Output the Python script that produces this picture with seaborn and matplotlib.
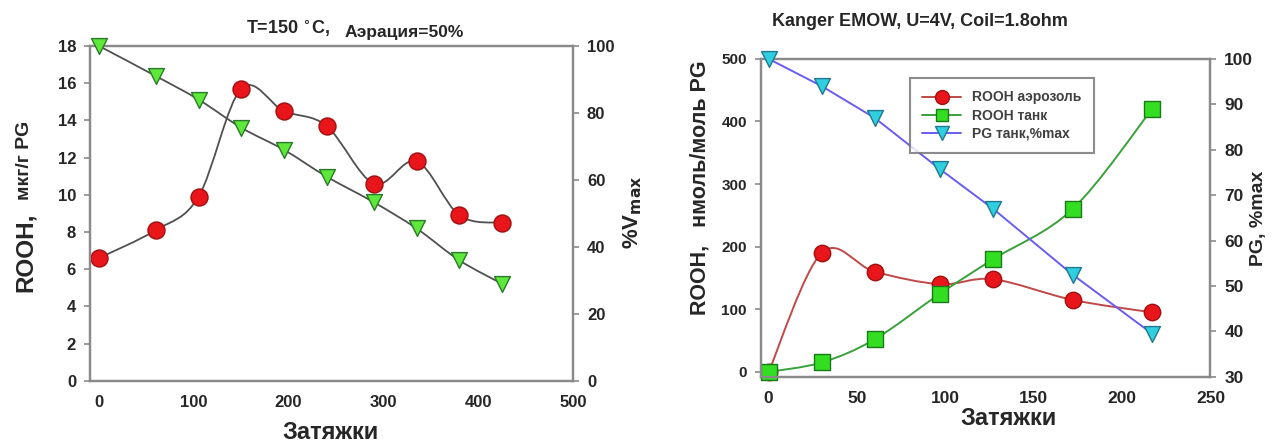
import numpy as np
import seaborn as sns
from matplotlib import pyplot as plt
from matplotlib.path import Path
from matplotlib.patches import PathPatch
from matplotlib.lines import Line2D

# left panel: T=150 C, aeration 50%
puffs_a = [0, 60, 105, 150, 195, 240, 290, 335, 380, 425]
rooh_a = [6.6, 8.1, 9.9, 15.7, 14.5, 13.7, 10.6, 11.8, 8.9, 8.5]
vmax_a = [100, 91, 84, 75.6, 69, 61, 53.3, 45.5, 36, 29]

# right panel: Kanger EMOW
puffs_b = [0, 30, 60, 97, 127, 172, 217]
rooh_aer = [0, 190, 160, 140, 148, 115, 95]
rooh_tank = [0, 15, 52, 125, 180, 260, 420]
pg_tank = [100, 94, 87, 75.7, 67, 52.5, 39.5]

legend_labels = ['ROOH аэрозоль', 'ROOH танк', 'PG танк,%max']

sns.set_style("white")
plt.rcParams['font.family'] = ['Liberation Sans', 'DejaVu Sans']
plt.rcParams['font.weight'] = 'bold'
plt.rcParams['axes.labelweight'] = 'bold'

GREY = '#8a8a8a'


# excel-like smoothed line: catmull-rom turned into bezier segments
def smooth_line(ax, x, y, color, lw=1.3):
    pts = np.column_stack([np.asarray(x, float), np.asarray(y, float)])
    verts = [pts[0]]
    codes = [Path.MOVETO]
    for i in range(len(pts) - 1):
        p0 = pts[max(i - 1, 0)]
        p1 = pts[i]
        p2 = pts[i + 1]
        p3 = pts[min(i + 2, len(pts) - 1)]
        verts += [p1 + (p2 - p0) / 6.0, p2 - (p3 - p1) / 6.0, p2]
        codes += [Path.CURVE4] * 3
    ax.add_patch(PathPatch(Path(verts, codes), facecolor='none', edgecolor=color, lw=lw, zorder=2))


def style_axes(ax, twin, size):
    for a in (ax, twin):
        for s in ['left', 'right', 'top', 'bottom']:
            a.spines[s].set_color(GREY)
            a.spines[s].set_linewidth(1.6)
        a.grid(False)
    ax.tick_params(axis='both', direction='out', length=4, width=1.2, color=GREY, labelsize=size, pad=6)
    twin.tick_params(axis='y', direction='out', length=4, width=1.2, color=GREY, labelsize=size, pad=6)


fig = plt.figure(figsize=(12.85, 4.46), dpi=100)

# ---------- left panel ----------
ax1 = fig.add_axes([0.070, 0.146, 0.376, 0.751])
ax1b = ax1.twinx()
ax1.set_xlim(-9.5, 500)
ax1.set_ylim(0, 18)
ax1.set_yticks(range(0, 19, 2))
ax1.set_xticks(range(0, 501, 100))
ax1b.set_ylim(0, 100)
ax1b.set_yticks(range(0, 101, 20))
style_axes(ax1, ax1b, 12)

smooth_line(ax1, puffs_a, rooh_a, '#505050')
smooth_line(ax1b, puffs_a, vmax_a, '#505050')
sns.scatterplot(x=puffs_a, y=rooh_a, ax=ax1, marker='o', s=150, color='#e8151a',
                edgecolor='#a01010', linewidth=1, zorder=3, clip_on=False)
sns.scatterplot(x=puffs_a, y=vmax_a, ax=ax1b, marker='v', s=130, color='#5ee83a',
                edgecolor='#2a7a2a', linewidth=1, zorder=3, clip_on=False)

fig.text(0.257, 0.031, 'Затяжки', ha='center', va='center', fontsize=17, fontweight='bold')
fig.text(0.020, 0.435, 'ROOH,', rotation=90, ha='center', va='center', fontsize=17.5, fontweight='bold')
fig.text(0.019, 0.64, 'мкг/г PG', rotation=90, ha='center', va='center', fontsize=14, fontweight='bold')
fig.text(0.492, 0.525, r'%V$_{\mathbf{max}}$', rotation=90, ha='center', va='center',
         fontsize=16, fontweight='bold')
fig.text(0.257, 0.935, 'T=150 $^{\\circ}$C,', ha='right', va='center', fontsize=13, fontweight='bold')
fig.text(0.268, 0.928, 'Аэрация=50%', ha='left', va='center', fontsize=12.5, fontweight='bold')

# ---------- right panel ----------
ax2 = fig.add_axes([0.592, 0.155, 0.350, 0.713])
ax2b = ax2.twinx()
ax2.set_xlim(-4.5, 250)
ax2.set_ylim(-8, 500)
ax2.set_yticks(range(0, 501, 100))
ax2.set_xticks(range(0, 251, 50))
ax2b.set_ylim(30, 100)
ax2b.set_yticks(range(30, 101, 10))
style_axes(ax2, ax2b, 11)
ax2.tick_params(axis='x', labelsize=12.5)
ax2b.tick_params(axis='y', labelsize=12.5)

smooth_line(ax2, puffs_b, rooh_aer, '#c04848', lw=1.4)
smooth_line(ax2, puffs_b, rooh_tank, '#3aa03a', lw=1.4)
sns.lineplot(x=puffs_b, y=pg_tank, ax=ax2b, color='#6a5cf0', lw=1.4, sort=False, zorder=2)
sns.scatterplot(x=puffs_b, y=rooh_aer, ax=ax2, marker='o', s=140, color='#e8151a',
                edgecolor='#a01010', linewidth=1, zorder=4, clip_on=False)
sns.scatterplot(x=puffs_b, y=rooh_tank, ax=ax2, marker='s', s=130, color='#33dd22',
                edgecolor='#1a7a1a', linewidth=1, zorder=4, clip_on=False)
sns.scatterplot(x=puffs_b, y=pg_tank, ax=ax2b, marker='v', s=130, color='#30cfe0',
                edgecolor='#207890', linewidth=1, zorder=4, clip_on=False)

handles = [
    Line2D([], [], color='#c04848', marker='o', markersize=10, markerfacecolor='#e8151a',
           markeredgecolor='#a01010', lw=1.4),
    Line2D([], [], color='#3aa03a', marker='s', markersize=9, markerfacecolor='#33dd22',
           markeredgecolor='#1a7a1a', lw=1.4),
    Line2D([], [], color='#6a5cf0', marker='v', markersize=10, markerfacecolor='#30cfe0',
           markeredgecolor='#207890', lw=1.4),
]
leg = ax2b.legend(handles, legend_labels, loc='upper left', bbox_to_anchor=(0.316, 0.962),
                  fontsize=10, frameon=True, fancybox=False, edgecolor='#707070',
                  handlelength=2.8, borderpad=0.9, labelspacing=0.3)
leg.get_frame().set_linewidth(1.5)
for t in leg.get_texts():
    t.set_color('#404040')

fig.text(0.716, 0.952, 'Kanger EMOW, U=4V, Coil=1.8ohm', ha='center', va='center',
         fontsize=13, fontweight='bold')
fig.text(0.785, 0.062, 'Затяжки', ha='center', va='center', fontsize=17, fontweight='bold')
fig.text(0.545, 0.58, 'ROOH,   нмоль/моль PG', rotation=90, ha='center', va='center',
         fontsize=15.5, fontweight='bold')
fig.text(0.979, 0.51, 'PG, %max', rotation=90, ha='center', va='center', fontsize=14,
         fontweight='bold')

fig.savefig('out.png', dpi=100)
